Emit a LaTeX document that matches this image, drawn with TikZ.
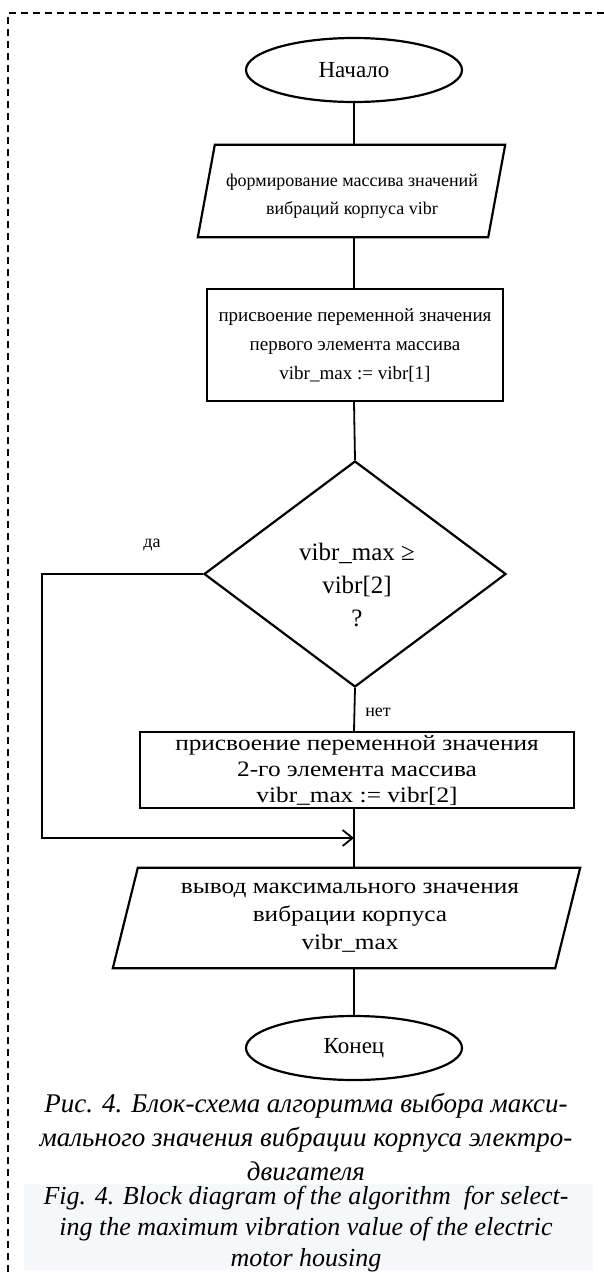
\documentclass[tikz,border=0pt]{standalone}
\usepackage{fontspec}
\setmainfont{Liberation Serif}
\newfontfamily\widefont[FakeStretch=1.15]{Liberation Serif}
\usetikzlibrary{shapes.geometric,arrows.meta}
\definecolor{capbg}{RGB}{245,247,250}
\tikzset{
  shapeline/.style={draw=black, line width=2.2pt, line join=miter},
  term/.style={ellipse, draw=black, line width=2.2pt, minimum width=216pt, minimum height=64pt, inner sep=0pt, font=\fontsize{23}{26}\selectfont},
  procbox/.style={rectangle, draw=black, line width=2.2pt, inner sep=0pt, align=center},
  iobox/.style={rectangle, inner sep=0pt, align=center},
  conn/.style={draw=black, line width=1.8pt},
  lbl/.style={font=\fontsize{18}{22}\selectfont, inner sep=0pt},
  captext/.style={align=center, inner sep=0pt},
  border/.style={draw=black, line width=1.5pt, dash pattern=on 7pt off 5pt}
}
\begin{document}
\begin{tikzpicture}[x=1pt,y=-1pt]
\useasboundingbox (0,0) rectangle (604,1272);
\fill[white] (0,0) rectangle (604,1272);
\draw[border] (8,1272) -- (8,13) -- (604,13);

\node[term] (start) at (354,70) {Начало};

\node[iobox, minimum width=307pt, minimum height=92pt] (p1) at (351.5,191) {};
\node[align=center, inner sep=0pt, font=\fontsize{18}{28}\selectfont] (p1t) at (352,196) {формирование массива значений\\вибраций корпуса vibr};
\draw[shapeline] ([xshift=17pt]p1.north west) -- (p1.north east) -- ([xshift=-17pt]p1.south east) -- (p1.south west) -- cycle;

\node[procbox, minimum width=296pt, minimum height=112pt, font=\fontsize{19}{29}\selectfont] (r2) at (355,345) {присвоение переменной значения\\первого элемента массива\\vibr\_max := vibr[1]};

\node[diamond, draw=black, line width=2.2pt, minimum width=302pt, minimum height=226pt, inner sep=0pt] (d) at (355,574) {};
\node[align=center, inner sep=0pt, font=\fontsize{25}{33}\selectfont] (dt) at (357,585) {vibr\_max ≥\\vibr[2]\\?};

\node[lbl] (yes) at (152,545) {да};
\node[lbl] (no) at (378,712) {нет};

\node[procbox, minimum width=434pt, minimum height=76pt, font=\widefont\fontsize{22}{26}\selectfont] (r3) at (357,770) {присвоение переменной значения\\2-го элемента массива\\vibr\_max := vibr[2]};

\coordinate (m) at (354,838);
\coordinate (lc1) at (42,574);
\coordinate (lc2) at (42,838);

\node[iobox, minimum width=467pt, minimum height=100pt] (p4) at (346.5,918) {};
\node[align=center, inner sep=0pt, font=\widefont\fontsize{22}{28}\selectfont] (p4t) at (350,918) {вывод максимального значения\\вибрации корпуса\\vibr\_max};
\draw[shapeline] ([xshift=25pt]p4.north west) -- (p4.north east) -- ([xshift=-25pt]p4.south east) -- (p4.south west) -- cycle;

\node[term] (end) at (354,1048) {Конец};

\draw[conn] (start.south) -- (start.south |- p1.north);
\draw[conn] (start.south |- p1.south) -- (start.south |- r2.north);
\draw[conn] (start.south |- r2.south) -- (d.north);
\draw[conn] (d.south) -- (start.south |- r3.north);
\draw[conn] (start.south |- r3.south) -- (start.south |- p4.north);
\draw[conn] (start.south |- p4.south) -- (end.north);
\draw[conn, -{Straight Barb[length=10pt,width=16pt]}] (d.west) -- (lc1) -- (lc2) -- (m);

\node[captext, font=\fontsize{27}{34}\selectfont\itshape] (caprus) at (306,1137) {Рис. 4. Блок-схема алгоритма выбора макси-\\мального значения вибрации корпуса электро-\\двигателя};
\fill[capbg] (24,1184) rectangle (593,1270);
\node[captext, font=\fontsize{26}{31}\selectfont\itshape] (capeng) at (306,1229) {Fig. 4. Block diagram of the algorithm\ \ for select-\\ing the maximum vibration value of the electric\\motor housing};
\end{tikzpicture}
\end{document}
